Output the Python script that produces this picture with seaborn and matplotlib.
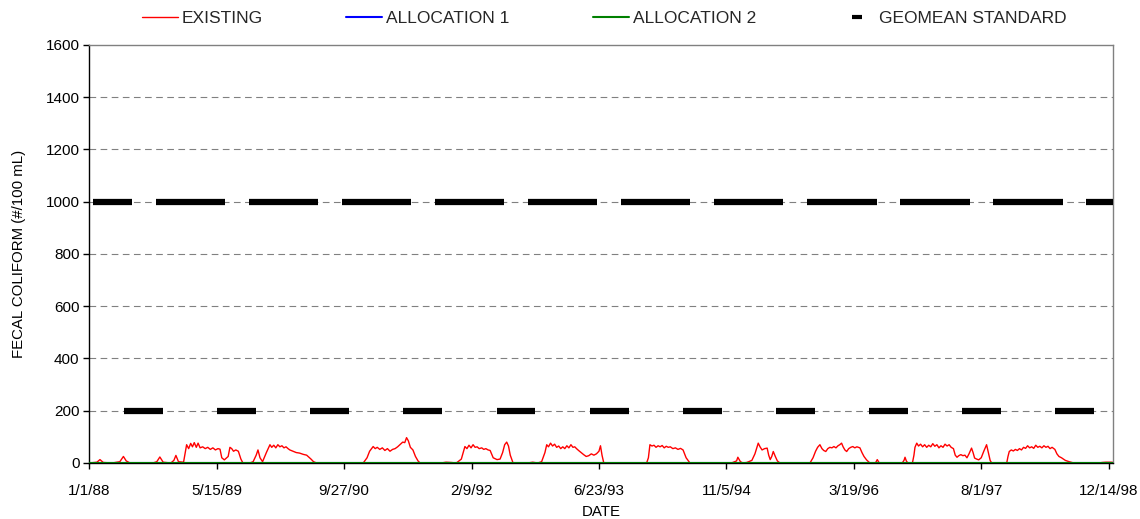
import numpy as np
import pandas as pd
import matplotlib
matplotlib.use('Agg')
import matplotlib.pyplot as plt
import matplotlib.dates as mdates
from matplotlib.lines import Line2D
import seaborn as sns

# EXISTING series (days since 1/1/88, #/100 mL)
existing_days = [
    0, 30, 42, 55, 90, 120, 134, 145, 160, 250, 265, 277, 290, 320, 332, 340, 350, 370,
    382, 390, 398, 405, 412, 420, 427, 435, 445, 455, 465, 475, 485, 495, 505, 513, 520, 530,
    545, 552, 559, 566, 575, 585, 595, 603,
    630, 643, 655, 662, 670, 680, 695, 709, 716, 724, 732, 740, 748, 756, 764, 772, 780, 787,
    800, 812, 825, 840, 853, 870, 880, 892,
    1075, 1090, 1100, 1114, 1122, 1130, 1140, 1150, 1160, 1170, 1180, 1190, 1200, 1210, 1219,
    1230, 1238, 1245, 1252, 1260, 1270, 1280, 1290, 1298,
    1380, 1400, 1420, 1440, 1447, 1460, 1474, 1482, 1490, 1498, 1506, 1514, 1522, 1530, 1540,
    1548, 1556, 1565, 1573, 1585, 1600, 1612, 1622, 1630, 1638, 1645, 1652, 1663,
    1720, 1740, 1760, 1775, 1788, 1795, 1802, 1810, 1818, 1826, 1834, 1842, 1850, 1858, 1866,
    1874, 1882, 1890, 1898, 1905, 1912, 1920, 1930, 1940, 1950, 1960, 1970, 1980, 1990, 2000,
    2006, 2012, 2019,
    2187, 2194, 2200, 2208, 2216, 2224, 2232, 2240, 2248, 2256, 2264, 2272, 2280, 2290, 2300,
    2310, 2320, 2330, 2342, 2357,
    2520, 2540, 2545, 2555, 2565,
    2580, 2600, 2612, 2620, 2625, 2632, 2640, 2650, 2660, 2666, 2672, 2678, 2684, 2692, 2700, 2710,
    2828, 2840, 2850, 2858, 2867, 2875, 2882, 2890, 2898, 2906, 2914, 2922, 2930, 2938, 2945,
    2952, 2958, 2965, 2972, 2980, 2988, 2996, 3004, 3012, 3018, 3024, 3032, 3040, 3050, 3063,
    3085, 3092, 3100, 3190, 3197, 3201, 3206, 3212,
    3230, 3236, 3240, 3247, 3254, 3262, 3270, 3278, 3286, 3294, 3302, 3310, 3318, 3326, 3334,
    3342, 3350, 3358, 3366, 3374, 3382, 3391, 3398, 3405, 3412, 3420, 3428, 3436, 3444, 3452,
    3462, 3468, 3474, 3482, 3490, 3500, 3510, 3521, 3528, 3535, 3541,
    3600, 3605, 3610, 3618, 3626, 3634, 3642, 3650, 3658, 3666, 3674, 3682, 3690, 3698, 3706,
    3714, 3722, 3730, 3738, 3746, 3754, 3762, 3770, 3778, 3789, 3797, 3805, 3815, 3830, 3845, 3863,
    3960, 3975, 3990, 4010, 4017,
]
existing_values = [
    0, 3, 13, 2, 0, 5, 25, 8, 0, 0, 5, 23, 3, 0, 10, 29, 5, 3,
    70, 55, 75, 62, 78, 60, 76, 58, 62, 55, 60, 52, 58, 50, 55, 53, 20, 12,
    25, 60, 55, 45, 50, 45, 15, 0,
    0, 5, 30, 50, 20, 5, 40, 70, 60, 68, 58, 70, 62, 66, 58, 62, 55, 50,
    45, 40, 38, 33, 30, 15, 5, 0,
    0, 20, 45, 63, 55, 60, 52, 58, 48, 55, 45, 52, 55, 62, 70,
    80, 78, 97, 85, 60, 50, 25, 8, 0,
    0, 3, 2, 0, 5, 15, 63, 55, 68, 58, 70, 60, 62, 55, 58,
    52, 55, 50, 48, 20, 13, 15, 40, 70, 80, 65, 30, 0,
    0, 3, 0, 5, 40, 70, 62, 76, 65, 72, 60, 65, 55, 62, 55,
    66, 58, 70, 60, 62, 55, 48, 40, 32, 25, 28, 35, 30, 35, 45,
    66, 30, 0,
    0, 20, 70, 65, 68, 60, 66, 62, 67, 58, 64, 60, 62, 55, 58,
    52, 56, 50, 20, 0,
    0, 8, 22, 5, 0,
    2, 10, 35, 60, 76, 62, 50, 55, 57, 30, 13, 25, 44, 25, 8, 0,
    0, 20, 45, 60, 70, 55, 48, 44, 55, 60, 58, 63, 58, 66, 70,
    76, 62, 50, 44, 55, 60, 63, 58, 62, 60, 58, 40, 25, 12, 0,
    0, 13, 0, 0, 10, 22, 8, 0,
    0, 30, 60, 76, 65, 72, 62, 70, 60, 68, 62, 74, 64, 70, 58,
    66, 60, 72, 65, 70, 60, 55, 30, 22, 28, 32, 28, 30, 20, 35,
    57, 40, 19, 15, 12, 20, 45, 70, 40, 10, 0,
    0, 25, 44, 50, 46, 52, 48, 55, 50, 60, 56, 66, 58, 62, 56,
    68, 60, 64, 58, 66, 60, 64, 55, 60, 52, 35, 25, 20, 10, 5, 0,
    0, 2, 3, 3, 2,
]

# allocation scenarios sit on zero for the whole record
alloc_days = [0, 4017]
alloc1_values = [0, 0]
alloc2_values = [0, 0]

# geomean standard: 1000 in the cool season, 200 in the warm season
std_start = ['1988-01-16', '1988-09-17', '1989-09-17', '1990-09-17', '1991-09-17', '1992-09-17',
             '1993-09-17', '1994-09-17', '1995-09-17', '1996-09-17', '1997-09-17', '1998-09-17',
             '1988-05-17', '1989-05-17', '1990-05-17', '1991-05-17', '1992-05-17', '1993-05-17',
             '1994-05-17', '1995-05-17', '1996-05-17', '1997-05-17', '1998-05-17']
std_end = ['1988-06-17', '1989-06-17', '1990-06-17', '1991-06-17', '1992-06-17', '1993-06-17',
           '1994-06-17', '1995-06-17', '1996-06-17', '1997-06-17', '1998-06-17', '1998-12-31',
           '1988-10-17', '1989-10-17', '1990-10-17', '1991-10-17', '1992-10-17', '1993-10-17',
           '1994-10-17', '1995-10-17', '1996-10-17', '1997-10-17', '1998-10-17']
std_value = [1000] * 12 + [200] * 11

tick_dates = ['1988-01-01', '1989-05-15', '1990-09-27', '1992-02-09', '1993-06-23',
              '1994-11-05', '1996-03-19', '1997-08-01', '1998-12-14']
tick_labels = ['1/1/88', '5/15/89', '9/27/90', '2/9/92', '6/23/93',
               '11/5/94', '3/19/96', '8/1/97', '12/14/98']

start = pd.Timestamp('1988-01-01')
ex_dates = start + pd.to_timedelta(existing_days, unit='D')
al_dates = start + pd.to_timedelta(alloc_days, unit='D')

sns.set_style('white')
plt.rcParams['font.family'] = ['Liberation Sans', 'DejaVu Sans']

fig = plt.figure(figsize=(11.4, 5.19), dpi=100)
ax = fig.add_axes([0.0783, 0.1079, 0.8980, 0.8054])

ax.hlines(std_value, mdates.date2num(pd.to_datetime(std_start)),
          mdates.date2num(pd.to_datetime(std_end)), colors='black', lw=4.5, zorder=4)
sns.lineplot(x=ex_dates, y=existing_values, color='red', lw=1, ax=ax, zorder=3)
sns.lineplot(x=al_dates, y=alloc1_values, color='blue', lw=1.5, ax=ax, zorder=4)
sns.lineplot(x=al_dates, y=alloc2_values, color='green', lw=1.5, ax=ax, zorder=5)

ax.set_xlim(start, pd.Timestamp('1998-12-31'))
ax.set_ylim(0, 1600)
ax.set_yticks(np.arange(0, 1601, 200))
ax.set_xticks(pd.to_datetime(tick_dates))
ax.set_xticklabels(tick_labels)
ax.tick_params(axis='both', labelsize=11, labelcolor='black', direction='out', length=4,
               width=1, color='black', bottom=True, left=True)
ax.tick_params(axis='y', pad=3)
ax.tick_params(axis='x', pad=11)

for y in range(200, 1600, 200):
    ax.axhline(y, color='#808080', lw=0.8, ls=(0, (6, 4)), zorder=1)

for side in ['left', 'bottom']:
    ax.spines[side].set_color('black')
    ax.spines[side].set_linewidth(1)
for side in ['top', 'right']:
    ax.spines[side].set_color('#808080')
    ax.spines[side].set_linewidth(1)

ax.set_xlabel('DATE', fontsize=10.8, color='black', labelpad=5)
ax.set_ylabel('FECAL COLIFORM (#/100 mL)', fontsize=10.8, color='black', labelpad=14)

handles = [Line2D([], [], color='red', lw=1),
           Line2D([], [], color='blue', lw=1.5),
           Line2D([], [], color='green', lw=1.5),
           Line2D([], [], color='black', ls='none', marker='_', markersize=7, mew=3)]
labels = ['EXISTING', 'ALLOCATION 1', 'ALLOCATION 2', 'GEOMEAN STANDARD']
fig.legend(handles, labels, loc='upper center', bbox_to_anchor=(0.53, 1.009), ncol=4,
           frameon=False, fontsize=12.5, handlelength=2.1, handletextpad=0.2,
           columnspacing=4.8)

fig.savefig('out.png', dpi=100)
